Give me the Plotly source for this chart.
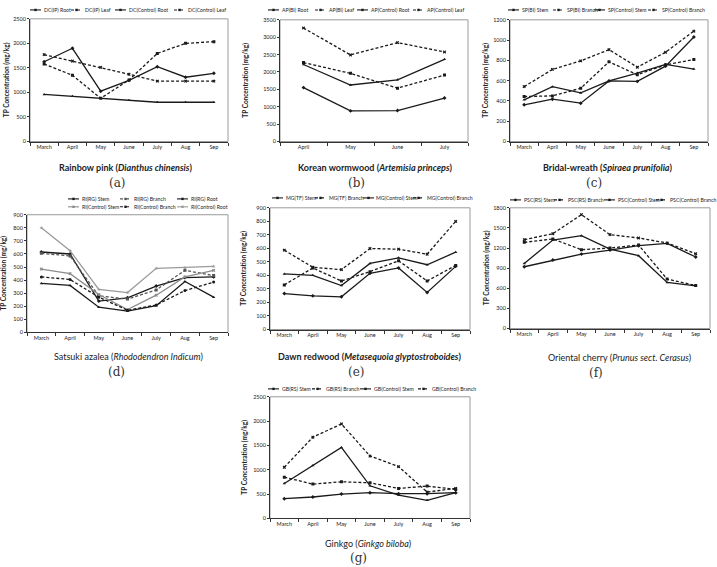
import plotly.graph_objects as go

W, H = 717, 567

months7 = ["March", "April", "May", "June", "July", "Aug", "Sep"]
months4 = ["April", "May", "June", "July"]

# (a) Rainbow pink
dc_ip_root = [1625, 1900, 1025, 1245, 1525, 1310, 1390]
dc_ip_leaf = [1580, 1350, 880, 1255, 1795, 2000, 2035]
dc_ctrl_root = [960, 920, 880, 840, 800, 800, 800]
dc_ctrl_leaf = [1770, 1640, 1510, 1370, 1230, 1230, 1230]

# (b) Korean wormwood
ap_bi_root = [1550, 880, 890, 1250]
ap_bi_leaf = [2270, 1960, 1535, 1910]
ap_ctrl_root = [2215, 1625, 1775, 2365]
ap_ctrl_leaf = [3265, 2490, 2845, 2575]

# (c) Bridal-wreath
sp_bi_stem = [362, 417, 378, 597, 593, 743, 1030]
sp_bi_branch = [443, 450, 525, 786, 659, 756, 808]
sp_ctrl_stem = [411, 541, 479, 597, 675, 760, 714]
sp_ctrl_branch = [541, 711, 795, 906, 733, 880, 1089]

# (d) Satsuki azalea
ri_rg_stem = [615, 600, 240, 265, 355, 420, 425]
ri_rg_branch = [605, 585, 280, 255, 325, 475, 435]
ri_rg_root = [375, 360, 193, 163, 205, 390, 270]
ri_ctrl_stem = [485, 450, 290, 175, 285, 425, 475]
ri_ctrl_branch = [425, 405, 270, 170, 210, 320, 385]
ri_ctrl_root = [800, 625, 330, 305, 490, 495, 505]

# (e) Dawn redwood
mg_tf_stem = [266, 249, 242, 416, 455, 274, 467]
mg_tf_branch = [330, 455, 359, 428, 508, 359, 474]
mg_ctrl_stem = [411, 401, 325, 489, 530, 479, 572]
mg_ctrl_branch = [587, 460, 443, 599, 594, 557, 800]

# (f) Oriental cherry
psc_rs_stem = [921, 1021, 1110, 1170, 1235, 1270, 1066]
psc_rs_branch = [1285, 1335, 1175, 1200, 1245, 737, 642]
psc_ctrl_stem = [971, 1320, 1384, 1185, 1086, 687, 637]
psc_ctrl_branch = [1325, 1414, 1698, 1400, 1350, 1275, 1115]

# (g) Ginkgo
gb_rs_stem = [407, 441, 502, 530, 509, 509, 530]
gb_rs_branch = [849, 706, 754, 733, 618, 665, 598]
gb_ctrl_stem = [720, 1086, 1460, 672, 482, 373, 530]
gb_ctrl_branch = [1052, 1670, 1942, 1283, 1066, 543, 618]

BLK = "#1a1a1a"
GRY = "#8c8c8c"
SOL = "solid"
DSH = "3px,2px"

panels = [
    dict(letter="(a)", cats=months7, yr=2500, dt=500, box=(30, 16, 228, 140),
         title="<b>Rainbow pink (<i>Dianthus chinensis</i>)</b>", tpos=(125, 166), lpos=(117, 182), yoff=24,
         series=[("DC(IP) Root", dc_ip_root, SOL, BLK), ("DC(IP) Leaf", dc_ip_leaf, DSH, BLK),
                 ("DC(Control) Root", dc_ctrl_root, SOL, BLK), ("DC(Control) Leaf", dc_ctrl_leaf, DSH, BLK)],
         leg=[(30, 7), (71, 7), (115, 7), (174, 7)]),
    dict(letter="(b)", cats=months4, yr=3500, dt=500, box=(280, 17, 468, 140),
         title="<b>Korean wormwood (<i>Artemisia princeps</i>)</b>", tpos=(375, 166), lpos=(356, 182), yoff=34,
         series=[("AP(BI) Root", ap_bi_root, SOL, BLK), ("AP(BI) Leaf", ap_bi_leaf, DSH, BLK),
                 ("AP(Control) Root", ap_ctrl_root, SOL, BLK), ("AP(Control) Leaf", ap_ctrl_leaf, DSH, BLK)],
         leg=[(268, 7), (315, 7), (357, 7), (413, 7)]),
    dict(letter="(c)", cats=months7, yr=1200, dt=200, box=(510, 17, 708, 140),
         title="<b>Bridal-wreath (<i>Spiraea prunifolia</i>)</b>", tpos=(608, 166), lpos=(594, 182), yoff=24,
         series=[("SP(BI) Stem", sp_bi_stem, SOL, BLK), ("SP(BI) Branch", sp_bi_branch, DSH, BLK),
                 ("SP(Control) Stem", sp_ctrl_stem, SOL, BLK), ("SP(Control) Branch", sp_ctrl_branch, DSH, BLK)],
         leg=[(508, 7), (553, 7), (594, 7), (648, 7)]),
    dict(letter="(d)", cats=months7, yr=900, dt=100, box=(27, 214, 228, 333),
         title="Satsuki azalea (<i>Rhododendron Indicum</i>)", tpos=(128, 357), lpos=(116, 373), yoff=23,
         series=[("RI(RG) Stem", ri_rg_stem, SOL, BLK), ("RI(RG) Branch", ri_rg_branch, DSH, "#555555"),
                 ("RI(RG) Root", ri_rg_root, SOL, BLK), ("RI(Control) Stem", ri_ctrl_stem, SOL, GRY),
                 ("RI(Control) Branch", ri_ctrl_branch, DSH, BLK), ("RI(Control) Root", ri_ctrl_root, SOL, "#9a9a9a")],
         leg=[(68, 198), (120, 198), (177, 198), (68, 206), (120, 206), (177, 206)]),
    dict(letter="(e)", cats=months7, yr=900, dt=100, box=(270, 207, 470, 330),
         title="<b>Dawn redwood (<i>Metasequoia glyptostroboides</i>)</b>", tpos=(370, 357), lpos=(356, 373), yoff=26,
         series=[("MG(TF) Stem", mg_tf_stem, SOL, BLK), ("MG(TF) Branch", mg_tf_branch, DSH, BLK),
                 ("MG(Control) Stem", mg_ctrl_stem, SOL, BLK), ("MG(Control) Branch", mg_ctrl_branch, DSH, BLK)],
         leg=[(272, 197), (315, 197), (363, 197), (413, 197)]),
    dict(letter="(f)", cats=months7, yr=1800, dt=300, box=(510, 207, 710, 329),
         title="Oriental cherry (<i>Prunus sect. Cerasus</i>)", tpos=(619, 358), lpos=(596, 374), yoff=24,
         series=[("PSC(RS) Stem", psc_rs_stem, SOL, BLK), ("PSC(RS) Branch", psc_rs_branch, DSH, BLK),
                 ("PSC(Control) Stem", psc_ctrl_stem, SOL, BLK), ("PSC(Control) Branch", psc_ctrl_branch, DSH, BLK)],
         leg=[(510, 199), (554, 199), (604, 199), (656, 199)]),
    dict(letter="(g)", cats=months7, yr=2500, dt=500, box=(270, 398, 470, 521),
         title="Ginkgo (<i>Ginkgo biloba</i>)", tpos=(368, 546), lpos=(358, 561), yoff=25,
         series=[("GB(RS) Stem", gb_rs_stem, SOL, BLK), ("GB(RS) Branch", gb_rs_branch, DSH, BLK),
                 ("GB(Control) Stem", gb_ctrl_stem, SOL, BLK), ("GB(Control) Branch", gb_ctrl_branch, DSH, BLK)],
         leg=[(268, 390), (312, 390), (360, 390), (418, 390)]),
]

def px(x):
    return x / W

def py(y):
    return 1 - y / H

FONT = "Lato"
fig = go.Figure()
layout = dict(width=W, height=H, margin=dict(l=0, r=0, t=0, b=0), paper_bgcolor="white",
              plot_bgcolor="white", showlegend=False, font=dict(family=FONT, color="#222"))
annotations = []
shapes = []
symbols = ["diamond", "square", "triangle-up", "x", "circle", "star"]

for i, p in enumerate(panels):
    n = i + 1
    xa = "x" if n == 1 else f"x{n}"
    ya = "y" if n == 1 else f"y{n}"
    xk = "xaxis" if n == 1 else f"xaxis{n}"
    yk = "yaxis" if n == 1 else f"yaxis{n}"
    x0, y0, x1, y1 = p["box"]
    ncat = len(p["cats"])
    layout[xk] = dict(domain=[px(x0), px(x1)], anchor=ya, type="category",
                      range=[-0.5, ncat - 0.5], showgrid=False, showline=True, linecolor="#333",
                      linewidth=1, ticks="outside", tickson="boundaries", ticklen=3, tickcolor="#333",
                      tickfont=dict(size=5.5, family=FONT, color="#222"), zeroline=False)
    layout[yk] = dict(domain=[py(y1), py(y0)], anchor=xa, range=[0, p["yr"]], dtick=p["dt"],
                      showgrid=False, showline=True, linecolor="#333", linewidth=1, ticks="outside",
                      ticklen=2, tickcolor="#333", tickfont=dict(size=5.5, family=FONT, color="#222"),
                      zeroline=False)
    shapes.append(dict(type="rect", xref=f"{xa} domain", yref=f"{ya} domain", x0=0, x1=1, y0=0, y1=1,
                       line=dict(color="#9a9a9a", width=1), layer="below"))
    for j, (name, vals, dash, col) in enumerate(p["series"]):
        fig.add_trace(go.Scatter(x=p["cats"], y=vals, mode="lines+markers", name=name,
                                 xaxis=xa, yaxis=ya,
                                 line=dict(color=col, width=1.3, dash=dash),
                                 marker=dict(size=3, color=col, symbol=symbols[j % len(symbols)])))
        lx, ly = p["leg"][j]
        shapes.append(dict(type="line", xref="paper", yref="paper", x0=px(lx), x1=px(lx + 11),
                           y0=py(ly), y1=py(ly), line=dict(color=col, width=1.1,
                                                            dash="solid" if dash == SOL else "dot")))
        shapes.append(dict(type="rect", xref="paper", yref="paper", x0=px(lx + 4.3), x1=px(lx + 6.7),
                           y0=py(ly + 1.2), y1=py(ly - 1.2), line=dict(width=0), fillcolor=col))
        annotations.append(dict(x=px(lx + 11.5), y=py(ly), xref="paper", yref="paper", text=name,
                                showarrow=False, xanchor="left", yanchor="middle",
                                font=dict(size=5.2, family=FONT, color="#222")))
    annotations.append(dict(x=px(x0 - p["yoff"]), y=py((y0 + y1) / 2), xref="paper", yref="paper",
                            text="<b>TP Concentration (mg/kg)</b>", textangle=-90, showarrow=False,
                            xanchor="center", yanchor="middle",
                            font=dict(size=6.5, family=FONT, color="#222")))
    annotations.append(dict(x=px(p["tpos"][0]), y=py(p["tpos"][1]), xref="paper", yref="paper",
                            text=p["title"], showarrow=False, xanchor="center", yanchor="middle",
                            font=dict(size=9, family=FONT, color="#222")))
    annotations.append(dict(x=px(p["lpos"][0]), y=py(p["lpos"][1]), xref="paper", yref="paper",
                            text=p["letter"], showarrow=False, xanchor="center", yanchor="middle",
                            font=dict(size=12, family="DejaVu Serif", color="#333")))

layout["annotations"] = annotations
layout["shapes"] = shapes
fig.update_layout(**layout)
fig.write_html("out.html")
